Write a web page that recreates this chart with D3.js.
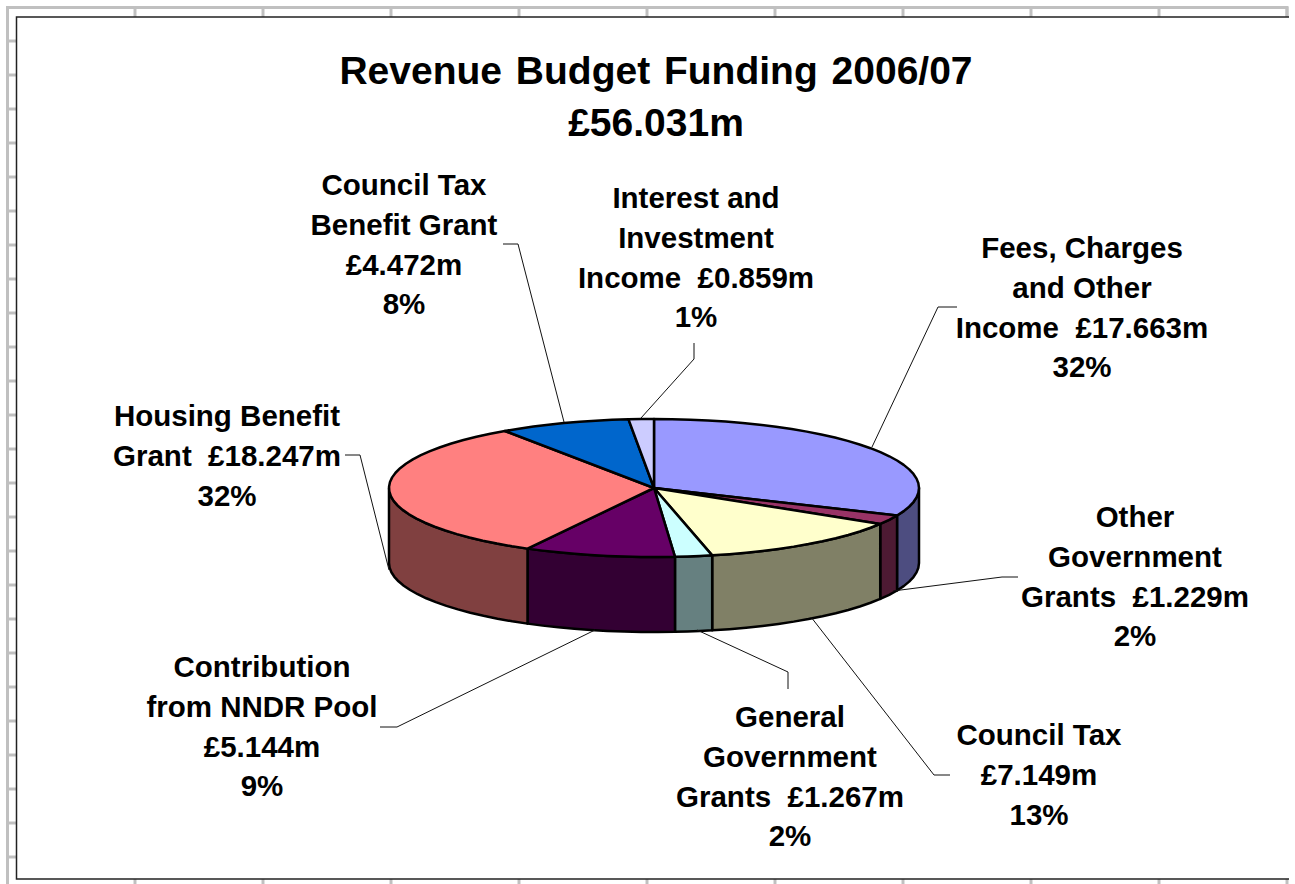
<!DOCTYPE html>
<html>
<head>
<meta charset="utf-8">
<script src="https://d3js.org/d3.v7.min.js"></script>
<style>
  html, body { margin: 0; padding: 0; background: #fff; }
  svg { display: block; }
  text { font-family: "Liberation Sans", Arial, sans-serif; font-weight: bold; fill: #000; white-space: pre; }
</style>
</head>
<body>
<div id="chart"></div>
<script>
let svgWidth = 1295;
let svgHeight = 884;

// Data
let categories = ["Fees, Charges and Other Income", "Other Government Grants", "Council Tax",
  "General Government Grants", "Contribution from NNDR Pool", "Housing Benefit Grant",
  "Council Tax Benefit Grant", "Interest and Investment Income"];
let values = [17.663, 1.229, 7.149, 1.267, 5.144, 18.247, 4.472, 0.859];
let percents = ["32%", "2%", "13%", "2%", "9%", "32%", "8%", "1%"];
let labelLines = [
  ["Fees, Charges", "and Other", "Income  £17.663m"],
  ["Other", "Government", "Grants  £1.229m"],
  ["Council Tax", "£7.149m"],
  ["General", "Government", "Grants  £1.267m"],
  ["Contribution", "from NNDR Pool", "£5.144m"],
  ["Housing Benefit", "Grant  £18.247m"],
  ["Council Tax", "Benefit Grant", "£4.472m"],
  ["Interest and", "Investment", "Income  £0.859m"]
];
let titleLines = ["Revenue Budget Funding 2006/07", "£56.031m"];

// Colours
let topColors = ["#9999FF", "#993366", "#FFFFCC", "#CCFFFF", "#660066", "#FF8080", "#0066CC", "#CCCCFF"];
let wallColors = ["#4D4D80", "#4D1A33", "#808066", "#668080", "#330033", "#804040", "#003366", "#666680"];

// Layout of the labels and their leader lines
let labelX = [1082, 1135, 1039, 790, 262, 227, 404, 696];
let labelY = [258, 527, 745, 727, 677, 426, 195, 208];
let lineStep = 39.8;
let leaders = [
  [[957, 307], [938, 307], [872, 447]],
  [[1018, 577], [1002, 577], [893, 591]],
  [[950, 775], [934, 775], [811, 617]],
  [[788, 689], [788, 672], [697, 630]],
  [[380, 727], [397, 727], [595, 630]],
  [[345, 455], [360, 455], [389, 570]],
  [[503, 244], [518, 244], [564, 422]],
  [[694, 343], [694, 359], [641, 418]]
];

let svg = d3.select("#chart")
  .append("svg")
  .attr("width", svgWidth)
  .attr("height", svgHeight);

// Grey sheet border with ticks, behind the chart area
let gridColor = "#C0C0C0";
let tickXs = d3.range(135, 1288, 128);
let tickYs = d3.range(41, 860, 34);
let sheet = svg.append("g").attr("stroke", gridColor).attr("stroke-width", 3).attr("fill", "none");
sheet.append("path").attr("d", "M7.5,884V7.5H1287V17");
sheet.selectAll(".tx").data(tickXs).enter().append("line")
  .attr("x1", d => d).attr("x2", d => d).attr("y1", 7).attr("y2", 17);
sheet.selectAll(".bx").data(tickXs).enter().append("line")
  .attr("x1", d => d).attr("x2", d => d).attr("y1", 879).attr("y2", 884);
sheet.selectAll(".ty").data(tickYs).enter().append("line")
  .attr("x1", 7).attr("x2", 17).attr("y1", d => d).attr("y2", d => d);

// Chart area frame
svg.append("path")
  .attr("d", "M1289,17H16.5V879H1289")
  .attr("fill", "none")
  .attr("stroke", "#222")
  .attr("stroke-width", 1.5);

// Title
svg.append("g").selectAll("text")
  .data(titleLines)
  .enter()
  .append("text")
  .attr("x", 656)
  .attr("y", (d, i) => 84 + i * 52)
  .attr("text-anchor", "middle")
  .attr("font-size", "39px")
  .attr("word-spacing", "3px")
  .text(d => d);

// Pie in 3D: unit circle squashed into an ellipse, with a wall hanging below it
let xScale = d3.scaleLinear().domain([-1, 1]).range([389, 919]);
let yScale = d3.scaleLinear().domain([-1, 1]).range([419, 557]);
let depth = 75;

let pie = d3.pie().sort(null).value(d => d);
let arcs = pie(values);

let px = a => xScale(Math.sin(a));
let py = a => yScale(-Math.cos(a));

function rimAngles(a0, a1) {
  let n = Math.max(1, Math.ceil((a1 - a0) / (Math.PI / 45)));
  return d3.range(n + 1).map(i => a0 + (a1 - a0) * i / n);
}

let wallData = arcs.map((d, i) => ({
  a0: Math.max(d.startAngle, Math.PI / 2),
  a1: Math.min(d.endAngle, Math.PI * 1.5),
  i: i
})).filter(d => d.a1 > d.a0);

svg.append("g").selectAll("path")
  .data(wallData)
  .enter()
  .append("path")
  .attr("d", d => {
    let rim = rimAngles(d.a0, d.a1);
    let upper = rim.map(a => [px(a), py(a)]);
    let lower = rim.slice().reverse().map(a => [px(a), py(a) + depth]);
    return d3.line()(upper.concat(lower)) + "Z";
  })
  .attr("fill", d => wallColors[d.i])
  .attr("stroke", "#000")
  .attr("stroke-width", 2.5)
  .attr("stroke-linejoin", "round");

svg.append("g").selectAll("path")
  .data(arcs)
  .enter()
  .append("path")
  .attr("d", d => {
    let rim = rimAngles(d.startAngle, d.endAngle).map(a => [px(a), py(a)]);
    return d3.line()([[xScale(0), yScale(0)]].concat(rim)) + "Z";
  })
  .attr("fill", (d, i) => topColors[i])
  .attr("stroke", "#000")
  .attr("stroke-width", 2.5)
  .attr("stroke-linejoin", "round");

// Leader lines
svg.append("g").selectAll("path")
  .data(leaders)
  .enter()
  .append("path")
  .attr("d", d => d3.line()(d))
  .attr("fill", "none")
  .attr("stroke", "#111")
  .attr("stroke-width", 1);

// Data labels
let labelGroups = svg.append("g").selectAll("text")
  .data(categories)
  .enter()
  .append("text")
  .attr("text-anchor", "middle")
  .attr("font-size", "29.5px");

labelGroups.selectAll("tspan")
  .data((d, i) => labelLines[i].concat([percents[i]]).map((line, j) => ({ line: line, j: j, i: i })))
  .enter()
  .append("tspan")
  .attr("x", d => labelX[d.i])
  .attr("y", d => labelY[d.i] + d.j * lineStep)
  .text(d => d.line);
</script>
</body>
</html>
